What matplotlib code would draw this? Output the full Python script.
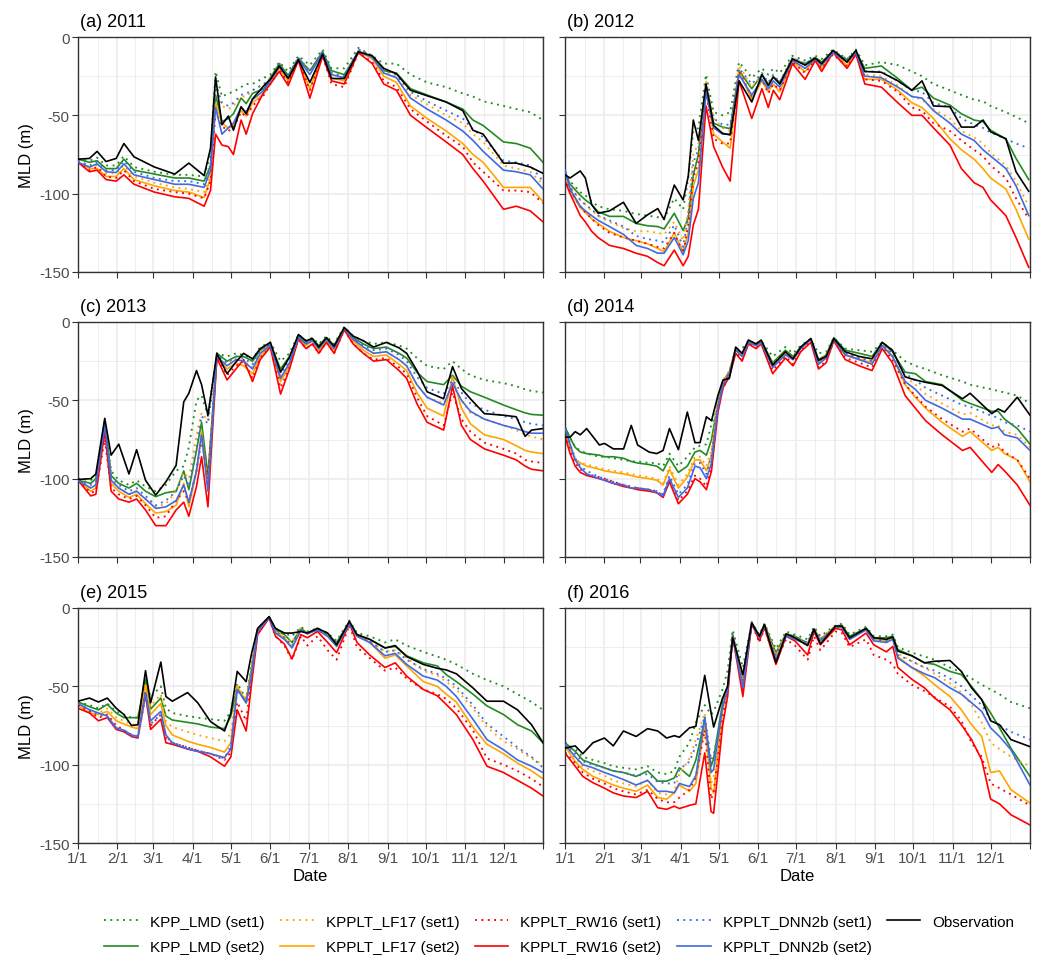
import datetime as dt
import matplotlib
matplotlib.use("Agg")
import matplotlib.pyplot as plt
from matplotlib.lines import Line2D

# ---- data (MLD in m; x = day of year) ----
years = [2011, 2012, 2013, 2014, 2015, 2016]
tags = ["(a)", "(b)", "(c)", "(d)", "(e)", "(f)"]

days_2011 = [0, 9, 15, 22, 30, 36, 44, 60, 76, 87, 99, 104, 108, 113, 118, 122, 128, 132, 137, 146, 151,
             158, 165, 173, 182, 192, 199, 209, 220, 231, 240, 250, 261, 274, 289, 302, 310, 318, 334, 344, 355, 365]
obs_2011 = [-78, -77.5, -73, -79.5, -77.5, -68, -76.5, -83, -87.5, -80.5, -88.5, -71, -25.5, -56, -50.5, -59.5, -44.5,
            -49, -39.5, -31, -27, -18.5, -26.5, -14.5, -29, -11, -26.5, -26.5, -9.5, -12, -20, -23.5, -34, -37.5,
            -41.5, -47, -59.5, -62, -80.5, -80.5, -83, -87]
lmd1_2011 = [-78, -79, -77, -82, -82, -76, -83, -86, -88, -88, -89, -75, -22, -38, -36, -35, -32, -30, -30, -26, -24,
             -16, -22, -12, -18, -8, -20, -20, -7, -12, -17, -17, -24, -29, -32, -36, -38, -41, -44, -46, -48, -53]
lmd2_2011 = [-78, -80, -79, -84, -84, -78, -85, -87.5, -90, -90, -92, -82, -37, -54, -52, -49, -39, -42.5, -36, -33,
             -26, -17, -24.5, -13.5, -21.5, -9.5, -21.5, -24, -9.5, -13, -21.5, -23, -33, -37, -41.5, -46, -53, -56.5,
             -67, -68, -71, -80]
lf1_2011 = [-79, -83, -82, -87, -87, -82, -89, -93, -96, -97, -99, -86, -30, -44, -46, -44, -38, -38, -34, -30, -26,
            -17, -25, -13, -22, -9, -23, -25, -8, -12, -22, -25, -37, -43, -50, -55, -62, -67, -82, -84, -86, -94]
lf2_2011 = [-80, -84, -84, -89, -89, -84, -91, -95, -98, -99, -102.5, -90, -42, -55, -58, -57, -47, -50.5, -42, -36,
            -29, -20, -28, -15, -33, -11, -26, -28, -9, -14, -25, -29, -44, -52, -60, -68, -75, -80, -96, -96, -96, -105]
rw1_2011 = [-80, -85, -83, -89, -90, -85, -92, -97, -99, -100, -103, -92, -48, -57, -60, -58, -48, -51, -44, -37, -30,
            -21, -29, -15, -34, -12, -30, -32, -10, -16, -28, -32, -46, -54, -63, -70, -80, -86, -98, -98, -99, -106]
rw2_2011 = [-80, -86, -85, -91, -92, -88, -94, -99, -102, -103, -108, -98, -62, -69, -70, -75, -53, -62, -49, -35, -30,
            -22, -31, -15, -39, -12, -28, -30, -10, -17, -30, -34, -50, -58, -67, -75, -84, -92, -110, -108, -111, -118]
dnn1_2011 = [-79, -82, -80, -85, -85, -79, -86, -90, -92, -92, -94, -83, -30, -42, -44, -42, -37, -36, -34, -30, -27,
             -17, -25, -13, -22, -9, -23, -25, -8, -12, -21, -24, -35, -41, -47, -52, -59, -64, -79, -80, -82, -92]
dnn2_2011 = [-80, -83, -81, -86, -86.5, -81, -88, -91, -94, -94, -96, -85, -45, -62, -58, -55, -45, -48, -40, -34, -28,
             -19, -26, -14, -24, -10, -24, -26, -9, -13, -23, -26, -39, -46, -53, -60, -66, -73, -85, -86, -88, -97]

days_2012 = [0, 4, 12, 16, 21, 26, 35, 46, 56, 65, 73, 78, 86, 93, 97, 101, 105, 111, 117, 124, 130, 137, 147, 155,
             160, 164, 169, 179, 189, 197, 202, 211, 222, 229, 236, 249, 262, 273, 281, 290, 303, 312, 322, 329, 335,
             347, 355, 365]
obs_2012 = [-88, -90, -85.5, -90, -107, -112.5, -111, -105.5, -119, -113.5, -109.5, -116.5, -94.5, -104, -89, -53, -66,
            -30, -56.5, -61.5, -62.5, -28, -41.5, -24, -31, -25.5, -30, -14, -18, -13.5, -17, -8.5, -16, -8.5, -22,
            -22.5, -28, -34, -28, -44, -44.5, -57.5, -57.5, -53, -60.5, -65, -86, -98.5]
lmd1_2012 = [-86, -92, -99, -101, -105, -108, -110, -111, -113, -114, -115, -116, -103, -110, -90, -60, -58, -24, -48,
             -50, -48, -16, -26, -20, -24, -20, -23, -12, -15, -12, -14, -8, -14, -8, -18, -16, -18, -22, -25, -30, -34,
             -37, -40, -41, -44, -48, -51, -55]
lmd2_2012 = [-86, -94, -101, -104, -107, -111.5, -114.5, -114.5, -119, -120.5, -121, -122.5, -112.5, -123.5, -115.5,
             -88, -75, -31, -55, -57.5, -58.5, -21.5, -33, -24, -30, -25.5, -29, -14, -17, -13, -16, -9.5, -14.5, -9.5,
             -20, -18.5, -26.5, -34, -32, -39, -43.5, -49, -53, -54, -59.5, -65, -77.5, -91]
lf1_2012 = [-86, -96, -104, -107, -111, -114, -118, -122, -124, -124, -125, -126, -118, -130, -110, -75, -68, -28, -52,
            -58, -60, -18, -32, -24, -30, -25, -30, -13, -18, -13, -17, -9, -15, -9, -24, -25, -31, -38, -40, -46, -52,
            -60, -64, -68, -74, -82, -92, -108]
lf2_2012 = [-87, -98, -109, -112, -116, -119, -124, -128, -130, -132, -135, -137, -125, -137, -125, -95, -85, -33, -62,
            -67, -71, -22, -40, -28, -35, -30, -35, -16, -22, -14, -20, -10, -18, -10, -27, -27, -34, -42, -45, -52, -65,
            -72, -78, -84, -90, -97, -110, -129]
rw1_2012 = [-90, -98, -108, -112, -116, -120, -125, -128, -130, -132, -134, -135, -125, -138, -120, -90, -80, -35, -65,
            -68, -68, -22, -38, -27, -36, -30, -34, -16, -23, -15, -20, -11, -19, -11, -27, -28, -35, -45, -47, -55, -60,
            -66, -72, -76, -82, -90, -103, -116]
rw2_2012 = [-92, -100, -114, -118, -124, -128, -133, -135, -138, -140, -144, -146, -136, -146, -140, -120, -110, -44,
            -70, -83, -92, -28, -52, -33, -45, -34, -40, -17, -27, -15, -22, -10, -20, -11, -30, -32, -42, -50, -50, -58,
            -69, -84, -93, -96, -104, -114, -128, -147]
dnn1_2012 = [-85, -96, -104, -107, -110, -114, -117, -121, -127, -129, -130, -131, -120, -134, -115, -80, -72, -30, -52,
             -56, -56, -20, -30, -23, -29, -24, -29, -13, -17, -13, -16, -9, -14, -9, -22, -22, -28, -34, -35, -42, -45,
             -52, -56, -58, -61, -65, -68, -71]
dnn2_2012 = [-85, -97, -108, -111, -114, -117, -121, -126, -133, -135, -138, -138, -128, -139, -130, -103, -93, -35,
             -58, -62, -62, -24, -37, -27, -33, -28, -32, -15, -20, -14, -18, -10, -16, -10, -25, -26, -32, -38, -39,
             -47, -55, -62, -66, -72, -76, -84, -95, -114]

days_2013 = [0, 10, 14, 21, 26, 32, 40, 46, 53, 61, 69, 77, 83, 87, 93, 97, 102, 109, 117, 124, 130, 137, 143, 151,
             159, 166, 173, 179, 184, 189, 195, 201, 209, 216, 224, 232, 242, 252, 258, 266, 274, 287, 294, 301, 308,
             319, 334, 344, 351, 356, 365]
obs_2013 = [-100.5, -100, -97, -61.5, -85, -78, -97, -81.5, -101, -110.5, -102, -91.5, -51, -45.5, -31, -40, -59.5,
            -20, -33, -25.5, -20, -23.5, -17, -13, -32, -22.5, -8, -12, -10.5, -16, -10, -15.5, -3.5, -9, -12, -16,
            -13, -16.5, -20, -31, -44.5, -49, -28.5, -42.5, -49, -58.5, -59.5, -60.5, -73, -69, -68]
lmd1_2013 = [-100, -101, -98, -63, -95, -101, -104, -101, -105, -108, -104, -95, -92, -80, -50, -47, -60, -20, -22,
             -20, -21, -24, -16, -13, -25, -20, -8, -12, -10, -14, -9, -14, -3, -9, -12, -14, -13, -15, -17, -23, -28,
             -30, -25, -30, -34, -37, -39, -41, -43, -44, -45]
lmd2_2013 = [-101, -103, -100, -63, -98, -103, -106, -103, -108, -111.5, -109, -108, -95, -107, -82, -64, -98, -20,
             -25, -22, -22, -25, -18, -14, -30, -22, -9, -13, -11, -15, -10, -15, -4, -10, -14, -17, -16, -20, -23, -32,
             -38, -40, -34, -41, -44.5, -48, -53, -56, -58, -59, -59.5]
lf1_2013 = [-101, -106, -104, -66, -101, -106, -110, -108, -113, -118, -116, -108, -96, -100, -72, -58, -63, -21, -27,
            -23, -25, -29, -19, -14, -34, -25, -9, -14, -11, -17, -11, -17, -4, -11, -16, -20, -19, -24, -28, -40, -48,
            -52, -40, -50, -58, -62, -66, -69, -72, -73, -75]
lf2_2013 = [-101, -108, -106, -68, -103, -108, -112, -110, -116, -122, -121, -117, -103, -118, -95, -70, -106, -23,
            -30, -26, -28, -33, -22, -15, -38, -28, -10, -15, -12, -18, -12, -18, -4, -12, -18, -22, -21, -27, -31, -45,
            -55, -60, -35, -55, -65, -72, -75, -79, -82, -83, -84]
rw1_2013 = [-101, -109, -108, -75, -106, -110, -113, -111, -117, -125, -124, -114, -108, -115, -95, -75, -100, -22,
            -34, -28, -25, -36, -23, -16, -42, -29, -11, -17, -14, -20, -13, -20, -5, -14, -20, -24, -23, -29, -33, -48,
            -60, -66, -45, -62, -70, -77, -81, -84, -88, -89, -90]
rw2_2013 = [-101, -111, -110, -70, -108, -113, -115, -113, -120, -130, -130, -120, -115, -124, -105, -86, -118, -23,
            -37, -30, -24, -38, -24, -16, -46, -30, -11, -17, -14, -20, -13, -20, -5, -14, -20, -25, -24, -31, -36, -52,
            -64, -69, -41, -66, -75, -81, -85, -88, -92, -94, -95]
dnn1_2013 = [-101, -104, -102, -64, -99, -104, -108, -106, -111, -117, -114, -108, -98, -105, -80, -60, -65, -21, -26,
             -22, -23, -27, -18, -14, -33, -24, -9, -13, -11, -16, -10, -16, -4, -10, -15, -18, -17, -21, -25, -35, -42,
             -46, -37, -45, -52, -56, -60, -62, -64, -65, -66]
dnn2_2013 = [-101, -106, -104, -66, -101, -106, -110, -108, -113, -119, -118, -114, -104, -115, -95, -72, -108, -22,
             -28, -24, -25, -30, -20, -15, -36, -26, -10, -14, -12, -17, -11, -17, -4, -11, -16, -20, -19, -24, -28, -40,
             -48, -53, -39, -50, -57, -62, -66, -68, -70, -71, -71]

days_2014 = [0, 4, 8, 12, 17, 27, 31, 38, 46, 52, 57, 66, 72, 77, 82, 89, 96, 102, 106, 111, 115, 120, 124, 129, 134,
             139, 144, 150, 154, 163, 173, 179, 185, 193, 199, 205, 211, 220, 231, 241, 249, 257, 267, 275, 283, 296,
             312, 318, 335, 340, 345, 355, 365]
obs_2014 = [-73.5, -73.5, -70, -72, -68, -78.5, -77.5, -81, -81, -66, -78.5, -83, -84, -82, -68, -81.5, -57.5, -77,
            -77, -60.5, -63, -47, -37, -36, -16, -20, -11.5, -14, -11.5, -27.5, -19, -23.5, -16, -10.5, -24.5, -22,
            -10.5, -19, -22, -23.5, -13, -18, -35, -37, -38.5, -40.5, -49, -45.5, -58.5, -55.5, -57.5, -48, -59.5]
lmd1_2014 = [-67, -74, -80, -82, -84, -86, -86, -87, -88, -89, -89, -90, -90, -92, -84, -92, -86, -80, -79, -78, -65,
             -55, -42, -35, -18, -17, -12, -14, -12, -22, -16, -20, -15, -11, -20, -19, -10, -17, -18, -19, -13, -18,
             -25, -28, -30, -34, -38, -40, -43, -44, -45, -47, -52]
lmd2_2014 = [-67, -74, -80, -83, -84, -85, -86, -86, -87, -89, -90, -91, -92, -95, -87, -96, -92, -83, -82, -85, -75,
             -52, -38, -32, -17, -20, -13, -14, -12, -26, -18, -22, -16, -11, -24, -21, -10, -18, -20, -22, -13, -19,
             -32, -33, -38, -40, -50, -52, -57, -57, -62, -68, -78]
lf1_2014 = [-70, -80, -87, -90, -91, -93, -94, -95, -96, -97, -98, -99, -100, -103, -92, -104, -97, -86, -86, -92, -82,
            -50, -37, -31, -17, -20, -12, -14, -12, -27, -19, -23, -16, -11, -25, -21, -11, -20, -23, -25, -14, -21, -35,
            -40, -46, -52, -59, -58, -66, -66, -70, -72, -80]
lf2_2014 = [-70, -80, -88, -90, -92, -94, -95, -96, -97, -98, -99, -100, -101, -104, -94, -106, -99, -88, -88, -95, -85,
            -52, -38, -32, -18, -21, -13, -14, -12, -28, -20, -24, -17, -11, -26, -22, -11, -21, -24, -26, -15, -22, -40,
            -48, -55, -64, -73, -70, -82, -80, -84, -88, -102]
rw1_2014 = [-72, -82, -90, -94, -97, -99, -100, -102, -104, -105, -106, -107, -108, -111, -100, -114, -108, -98, -100,
            -105, -92, -55, -40, -33, -19, -24, -14, -16, -14, -31, -22, -27, -18, -12, -29, -25, -12, -23, -26, -29,
            -16, -24, -40, -47, -54, -62, -70, -68, -80, -78, -83, -88, -100]
rw2_2014 = [-73, -84, -92, -96, -98, -100, -101, -103, -105, -106, -107, -108, -109, -112, -102, -116, -110, -100, -102,
            -107, -95, -58, -42, -35, -20, -25, -14, -17, -14, -33, -23, -28, -19, -13, -30, -26, -12, -24, -28, -31,
            -17, -26, -47, -55, -63, -72, -82, -80, -96, -91, -95, -104, -117]
dnn1_2014 = [-68, -78, -87, -92, -95, -99, -100, -102, -104, -106, -106, -107, -108, -110, -98, -110, -104, -90, -90,
             -97, -85, -52, -38, -32, -17, -21, -13, -15, -12, -27, -19, -23, -16, -11, -25, -22, -11, -20, -23, -25,
             -14, -20, -33, -37, -42, -47, -53, -54, -60, -61, -64, -66, -70]
dnn2_2014 = [-68, -78, -88, -93, -97, -100, -101, -103, -104, -106, -106, -107, -109, -111, -100, -112, -106, -92, -93,
             -100, -90, -55, -40, -33, -18, -22, -13, -15, -13, -29, -21, -24, -17, -11, -27, -23, -11, -21, -24, -27,
             -15, -22, -38, -43, -50, -55, -62, -62, -68, -67, -72, -74, -82]

days_2015 = [0, 9, 16, 23, 30, 36, 42, 47, 53, 57, 65, 69, 74, 86, 94, 104, 115, 120, 125, 132, 136, 141, 150, 155,
             162, 168, 175, 180, 188, 196, 203, 213, 219, 229, 241, 249, 258, 271, 282, 289, 297, 310, 321, 334, 345,
             356, 365]
obs_2015 = [-59.5, -57.5, -60, -57.5, -64, -68, -75, -74.5, -40, -60.5, -34.5, -56.5, -59.5, -54, -60.5, -72.5, -78.5,
            -67, -40.5, -47, -30, -13, -5.5, -13, -16, -16, -15, -16, -13, -16, -23.5, -8.5, -17, -20, -25.5, -24, -31,
            -36, -38.5, -39.5, -42, -51, -59.5, -59.5, -65, -74.5, -86]
lmd1_2015 = [-60, -62, -64, -61, -66, -68, -70, -70, -45, -57, -50, -64, -67, -69, -70, -71, -72, -66, -48, -58, -38,
             -13, -6, -13, -16, -18, -12, -15, -13, -16, -21, -8, -16, -18, -22, -20, -24, -28, -31, -33, -36, -42, -46,
             -50, -55, -60, -65]
lmd2_2015 = [-60, -63, -65, -61.5, -67, -70, -70, -70, -45.5, -64.5, -57.5, -69, -71.5, -73, -74, -76, -77, -69, -51,
             -60.5, -40, -14, -6, -14, -17, -22, -13, -16, -13, -17, -22, -9, -17, -20, -25.5, -24.5, -30.5, -35, -37,
             -42.5, -47, -55, -62.5, -68, -74.5, -78.5, -86]
lf1_2015 = [-61, -66, -67, -64, -70, -72, -74, -75, -48, -63, -55, -72, -76, -79, -81, -83, -85, -80, -50, -58, -40,
            -13, -6, -14, -18, -22, -13, -16, -13, -17, -23, -9, -17, -21, -28, -27, -32, -40, -43, -47, -52, -64, -76,
            -85, -90, -96, -100]
lf2_2015 = [-62, -67, -68, -66, -72, -74, -76, -77, -49, -68, -61, -75, -81, -85, -87, -89, -92, -86, -50, -60, -42,
            -14, -6, -15, -19, -25, -14, -16, -14, -18, -24, -10, -18, -22, -32, -30, -37, -47, -50, -55, -60, -76, -87,
            -93, -99, -104, -109]
rw1_2015 = [-62, -66, -70, -68, -75, -78, -81, -82, -53, -75, -68, -83, -86, -89, -91, -93, -97, -92, -60, -72, -46,
            -15, -6, -18, -24, -33, -18, -24, -18, -27, -33, -11, -25, -32, -40, -38, -45, -52, -55, -58, -64, -78, -96,
            -100, -104, -109, -114]
rw2_2015 = [-64, -67, -72, -70, -77.5, -79, -82, -83, -55, -77.5, -71, -86, -87, -90, -91.5, -95, -101, -95, -65,
            -78.5, -50, -17, -6.5, -18, -23, -32.5, -17, -19, -15, -22, -28.5, -10, -22, -30, -38, -35, -43.5, -52, -56,
            -61.5, -68, -84, -101, -105, -110, -115, -120]
dnn1_2015 = [-61, -65, -68, -70, -77, -79, -82, -83, -57, -74, -68, -82, -86, -89, -91, -93, -96, -88, -52, -60, -42,
             -14, -6, -15, -19, -24, -14, -16, -14, -18, -24, -10, -18, -21, -28, -27, -33, -39, -42, -45, -50, -62,
             -74, -82, -89, -95, -102]
dnn2_2015 = [-61, -65, -67, -69, -76.5, -78, -81, -82, -54, -72, -66, -81, -86, -90, -91.5, -93, -95.5, -90, -52,
             -60.5, -44, -15, -6, -16, -20, -25.5, -14, -16.5, -14, -18, -24.5, -10, -18, -22, -30.5, -29, -36, -43.5,
             -46, -50, -56.5, -71, -84, -90.5, -97, -101, -105]

days_2016 = [0, 8, 14, 22, 31, 38, 46, 56, 65, 73, 80, 86, 90, 98, 103, 110, 115, 117, 124, 128, 132, 140, 147, 153,
             157, 166, 174, 181, 191, 196, 201, 213, 218, 224, 237, 243, 253, 258, 262, 273, 283, 291, 303, 312, 320,
             328, 335, 342, 351, 366]
obs_2016 = [-89.5, -88, -93, -86, -83, -88, -78.5, -82, -77, -78.5, -83, -81.5, -82.5, -76.5, -75.5, -43, -67, -76,
            -57.5, -50, -19, -42.5, -9.5, -18, -10.5, -35, -16.5, -19, -24, -13.5, -23, -11.5, -11.5, -19, -13, -19,
            -20, -18.5, -27.5, -30.5, -35, -34, -33.5, -40.5, -51, -58.5, -72, -74.5, -84, -88.5]
lmd1_2016 = [-86, -90, -95, -97, -99, -101, -102, -103, -101, -105, -106, -104, -95, -86, -73, -62, -68, -66, -52, -40,
             -14, -38, -9, -17, -10, -26, -15, -17, -20, -12, -18, -11, -10, -17, -12, -18, -18, -17, -25, -28.5, -31,
             -33, -38, -41, -45, -49, -52, -55, -60, -64]
lmd2_2016 = [-86, -91.5, -97, -99.5, -102, -104, -105, -107.5, -104, -110.5, -110.5, -108.5, -102, -107.5, -97, -71,
             -101, -96, -60.5, -50, -17, -44.5, -9.5, -18, -10.5, -28.5, -16.5, -18, -22.5, -13.5, -20, -11.5, -11,
             -18, -13, -19, -19, -18, -26.5, -30.5, -35, -36, -40.5, -42.5, -50, -58.5, -67, -76.5, -89.5, -107.5]
lf1_2016 = [-88, -96, -101, -104, -107, -110, -112, -114, -110, -118, -119, -117, -106, -96, -84, -67, -112, -108, -62,
            -50, -17, -46, -9.5, -18, -10.5, -29, -16.5, -18.5, -22.5, -13, -19.5, -11.5, -11.5, -19, -13, -19.5, -20,
            -19, -29, -34, -38, -42, -48, -54, -62, -73, -86, -90, -95, -101]
lf2_2016 = [-88, -98, -103, -107.5, -110.5, -113, -115, -117, -113, -121, -122, -118, -113, -117, -112, -73.5, -115,
            -118, -66, -52, -18, -49, -9.5, -18, -11, -31, -17, -19, -23.5, -13.5, -20, -11.5, -11.5, -20, -13.5, -20,
            -21, -19, -31, -38, -43.5, -49, -56.5, -65, -74.5, -82, -105, -104, -116, -124.5]
rw1_2016 = [-92, -99, -105, -109, -112, -115, -117, -119, -116, -122, -124, -124, -121, -116, -108, -78, -122, -118,
            -70, -55, -18, -52, -10, -22, -13, -34, -20, -24, -33, -18, -27, -15, -16, -25, -20, -30, -33, -36, -42,
            -49, -53, -57, -63, -72, -86, -95, -112, -115, -119, -126]
rw2_2016 = [-92.5, -101, -107.5, -111.5, -115, -118, -120, -121, -117, -127.5, -128.5, -126.5, -128, -126, -125, -92.5,
            -130, -131, -75.5, -56.5, -18, -56.5, -10, -21, -12.5, -36, -18, -21, -30, -15, -23.5, -13, -14, -23.5, -16,
            -23.5, -28, -24.5, -38, -45.5, -51, -57.5, -65, -74.5, -84, -97, -122, -125, -132, -138.5]
dnn1_2016 = [-87, -93, -98, -100, -102, -104, -105, -107, -106, -111, -112, -112, -103, -98, -88, -69, -97, -94, -65,
             -50, -17, -48, -10, -18, -11, -30, -17, -19, -22, -13, -20, -12, -12, -19, -13, -20, -21, -19, -30, -34,
             -38, -40, -45, -50, -56, -62, -71, -75, -79, -84]
dnn2_2016 = [-87, -95, -100, -102, -105, -107, -109.5, -113, -110, -117, -117, -118, -112, -114, -107, -70, -105, -103,
             -63, -52, -18, -51, -10, -19, -11.5, -33, -18, -20, -23.5, -14, -21, -12, -12.5, -20, -14, -21, -22, -20,
             -32, -38, -42, -44.5, -51, -55, -60.5, -66, -76.5, -82, -90.5, -113]

# series order = legend order
labels = ["KPP_LMD (set1)", "KPP_LMD (set2)", "KPPLT_LF17 (set1)", "KPPLT_LF17 (set2)",
          "KPPLT_RW16 (set1)", "KPPLT_RW16 (set2)", "KPPLT_DNN2b (set1)", "KPPLT_DNN2b (set2)", "Observation"]
colors = ["#228B22", "#228B22", "#FFA500", "#FFA500", "#FF0000", "#FF0000", "#4169E1", "#4169E1", "black"]
dotted = [True, False, True, False, True, False, True, False, False]

panels = [
    (days_2011, [lmd1_2011, lmd2_2011, lf1_2011, lf2_2011, rw1_2011, rw2_2011, dnn1_2011, dnn2_2011, obs_2011]),
    (days_2012, [lmd1_2012, lmd2_2012, lf1_2012, lf2_2012, rw1_2012, rw2_2012, dnn1_2012, dnn2_2012, obs_2012]),
    (days_2013, [lmd1_2013, lmd2_2013, lf1_2013, lf2_2013, rw1_2013, rw2_2013, dnn1_2013, dnn2_2013, obs_2013]),
    (days_2014, [lmd1_2014, lmd2_2014, lf1_2014, lf2_2014, rw1_2014, rw2_2014, dnn1_2014, dnn2_2014, obs_2014]),
    (days_2015, [lmd1_2015, lmd2_2015, lf1_2015, lf2_2015, rw1_2015, rw2_2015, dnn1_2015, dnn2_2015, obs_2015]),
    (days_2016, [lmd1_2016, lmd2_2016, lf1_2016, lf2_2016, rw1_2016, rw2_2016, dnn1_2016, dnn2_2016, obs_2016]),
]

plt.rcParams["font.family"] = ["Liberation Sans", "DejaVu Sans"]
W, H = 1040, 962
fig = plt.figure(figsize=(W / 100, H / 100), dpi=100)

lefts = [78, 565]
tops = [38, 323, 609]
pw, ph = 465, 235
DOT = (0, (1, 2.4))
tick_grey = "#4D4D4D"
grid_col = "#EBEBEB"


def style(i, col):
    return dict(color=col, lw=1.35 if dotted[i] else 1.2,
                ls=DOT if dotted[i] else "-")


for k, (year, tag) in enumerate(zip(years, tags)):
    row, colm = divmod(k, 2)
    x0, y0 = lefts[colm], tops[row]
    ax = fig.add_axes([x0 / W, 1 - (y0 + ph) / H, pw / W, ph / H])
    days, series = panels[k]

    start = dt.date(year, 1, 1)
    mstarts = [(dt.date(year, m, 1) - start).days for m in range(1, 13)]
    ndays = (dt.date(year + 1, 1, 1) - start).days
    major = mstarts + [ndays]
    minor = [(a + b) / 2 for a, b in zip(major[:-1], major[1:])]

    for v in minor:
        ax.axvline(v, color=grid_col, lw=0.6, zorder=0)
    for v in major:
        ax.axvline(v, color=grid_col, lw=1.1, zorder=0)
    for v in [-25, -75, -125]:
        ax.axhline(v, color=grid_col, lw=0.6, zorder=0)
    for v in [0, -50, -100, -150]:
        ax.axhline(v, color=grid_col, lw=1.1, zorder=0)

    for i, vals in enumerate(series):
        ax.plot(days, vals, **style(i, colors[i]), zorder=2 + i * 0.1)

    ax.set_xlim(0, ndays)
    ax.set_ylim(-150, 0)
    ax.set_xticks(major)
    ax.set_yticks([0, -50, -100, -150])
    ax.tick_params(axis="both", direction="out", length=4, width=0.8, color="#333333",
                   labelsize=11, labelcolor=tick_grey, pad=2)
    if row == 2:
        ax.set_xticklabels([f"{m}/1" for m in range(1, 13)] + [""])
        ax.set_xlabel("Date", fontsize=12, labelpad=2)
    else:
        ax.set_xticklabels([])
    if colm == 0:
        ax.set_yticklabels(["0", "-50", "-100", "-150"])
        ax.set_ylabel("MLD (m)", fontsize=12, labelpad=4)
    else:
        ax.set_yticklabels([])
    for s in ax.spines.values():
        s.set_color("#333333")
        s.set_linewidth(1.0)
    ax.text(0.005, 1.03, f"{tag} {year}", transform=ax.transAxes, fontsize=13,
            ha="left", va="bottom")

handles = [Line2D([], [], **style(i, colors[i])) for i in range(len(labels))]
fig.legend(handles, labels, loc="center", bbox_to_anchor=(0.538, 0.0275), ncol=5,
           frameon=False, fontsize=11, handlelength=2.2, handletextpad=0.8,
           columnspacing=1.0, labelspacing=0.75)

fig.savefig("out.png", dpi=100)
